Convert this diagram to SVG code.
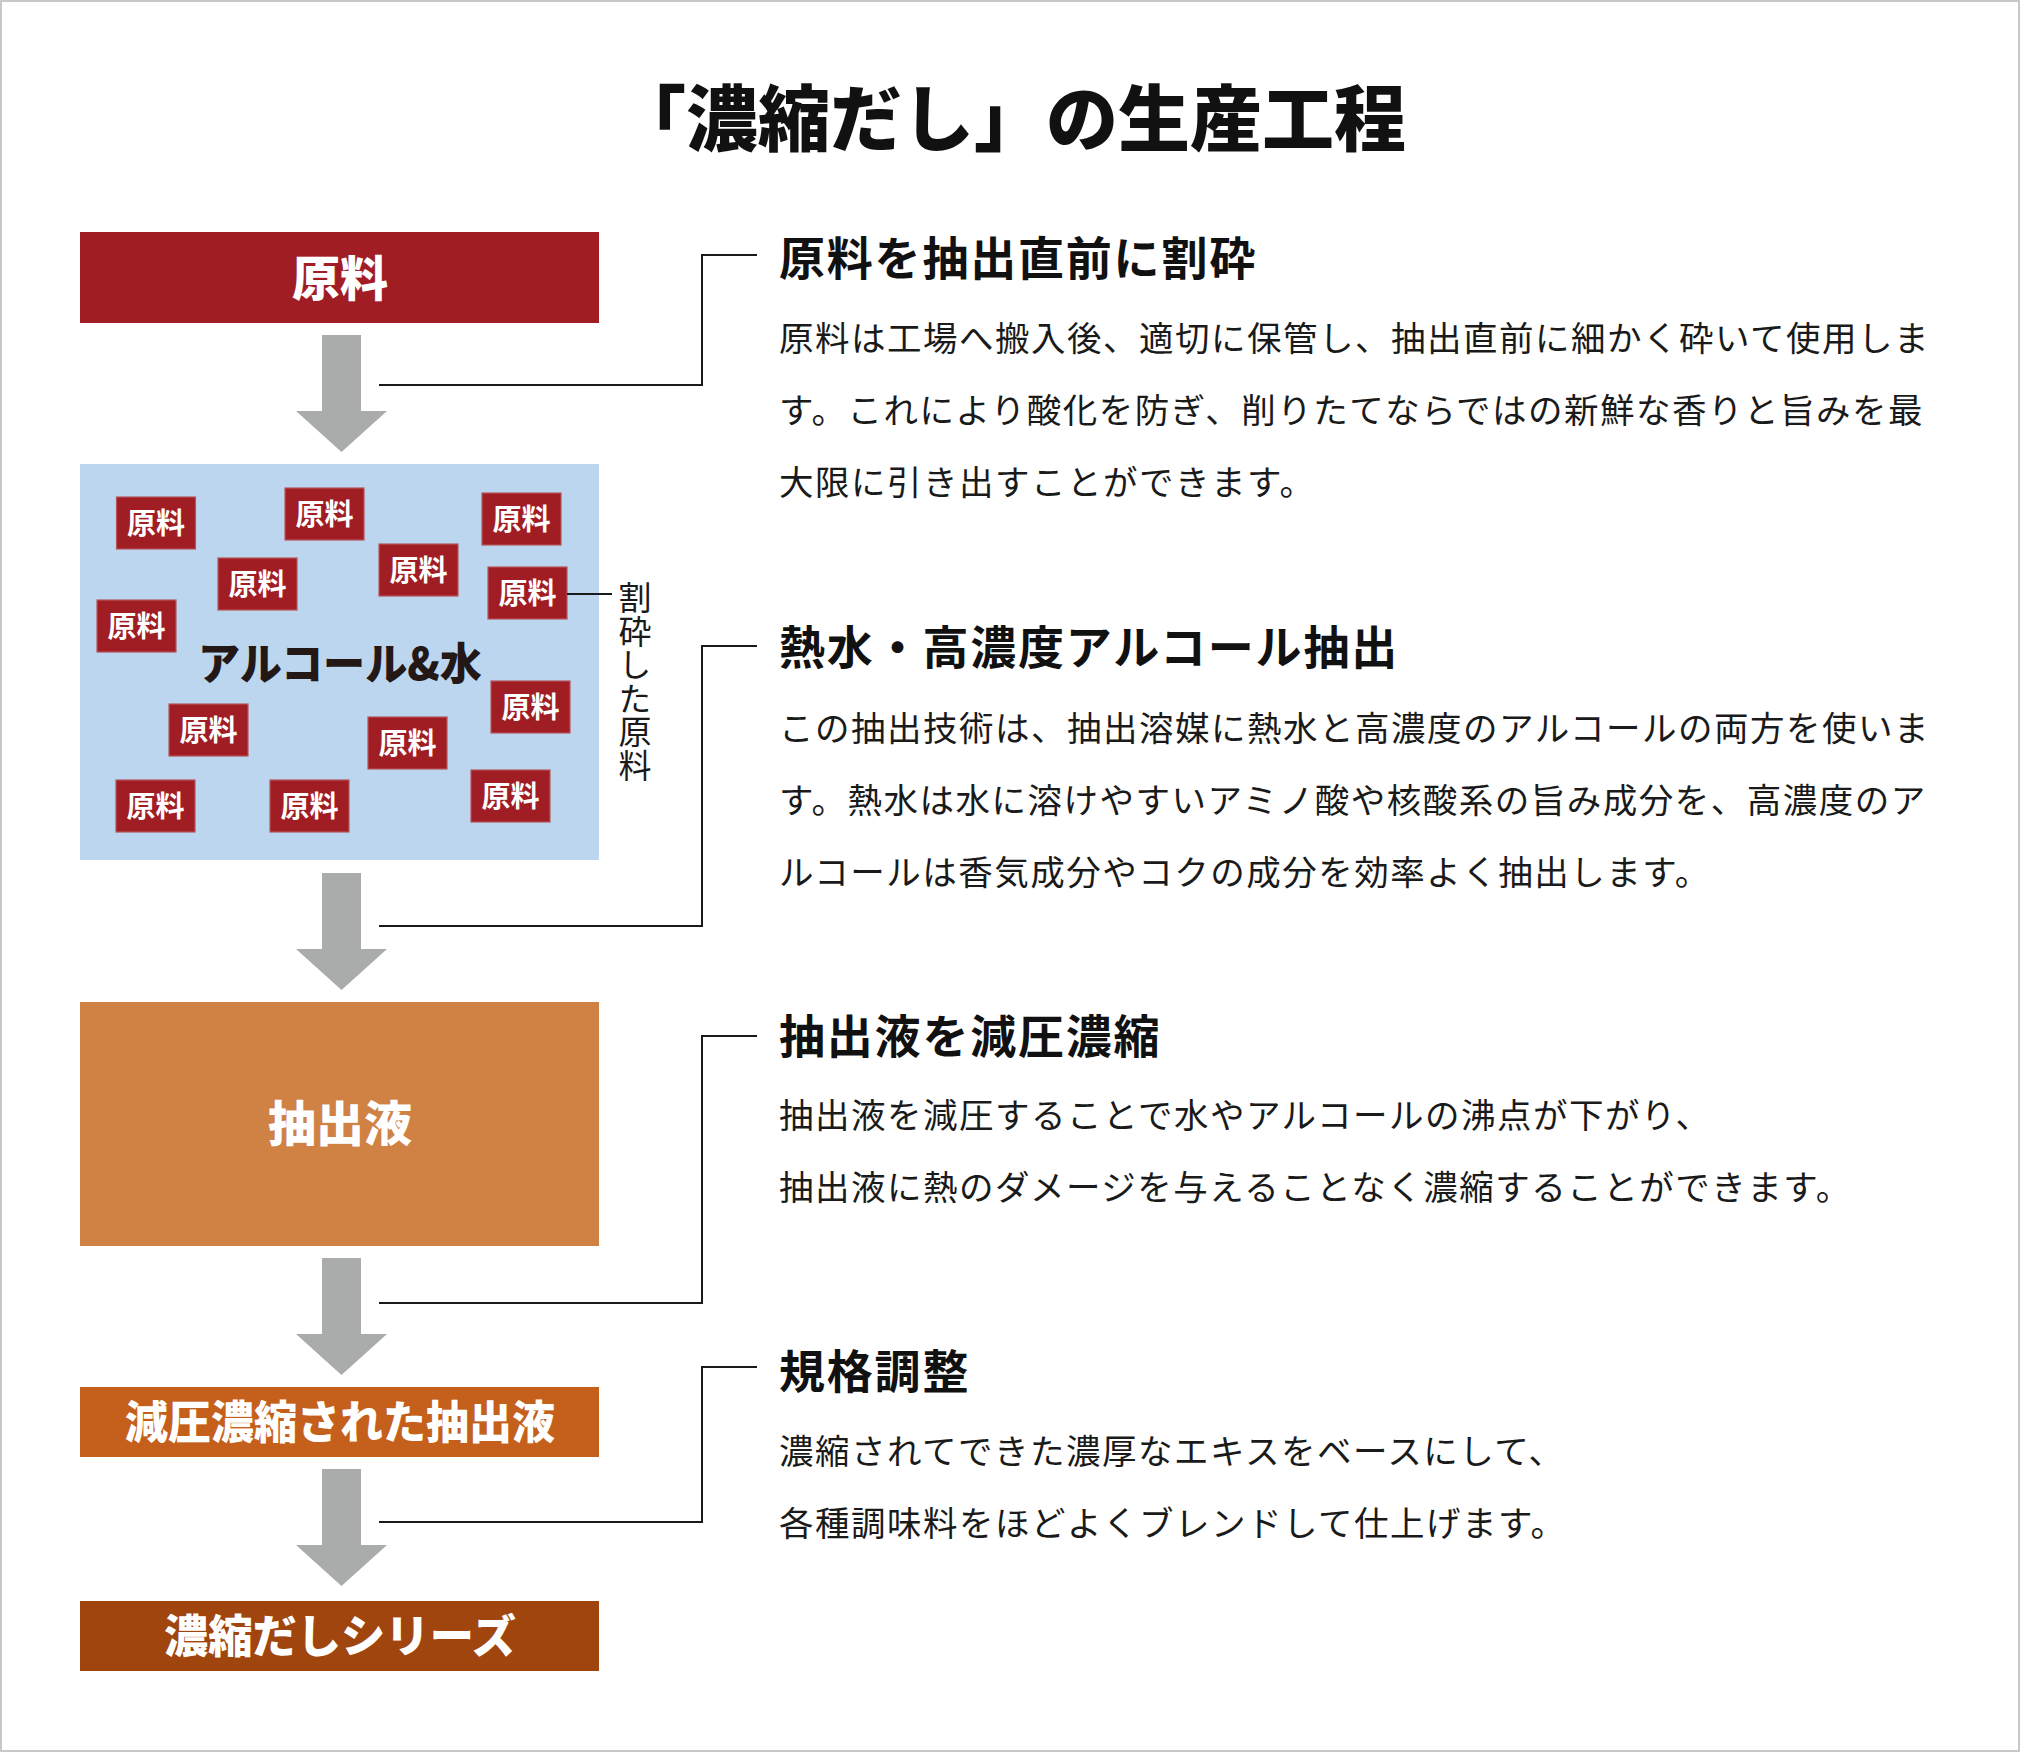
<svg xmlns="http://www.w3.org/2000/svg" width="2020" height="1752" viewBox="0 0 2020 1752">
<style>
text{font-family:"Noto Sans CJK JP","Noto Sans CJK SC",sans-serif;}
.title{font-size:72px;font-weight:900;fill:#111;}
.head{font-size:46px;font-weight:700;fill:#111;letter-spacing:1.8px;}
.body{font-size:34.5px;font-weight:400;fill:#1a1a1a;letter-spacing:1.5px;}
.lbl{font-size:48px;font-weight:900;fill:#fff;text-anchor:middle;}
.lbl2{font-size:45px;font-weight:900;fill:#fff;text-anchor:middle;}
.chip rect{fill:#a01d24;stroke:#b5565b;stroke-width:1.2;}
.chip text{font-size:29px;font-weight:700;fill:#fff;text-anchor:middle;}
.vt{font-size:33px;font-weight:400;fill:#1a1a1a;writing-mode:vertical-rl;letter-spacing:0.6px;}
.conn{fill:none;stroke:#1a1a1a;stroke-width:2;}
.arrow{fill:#aaabab;}
</style>
<defs>
<path id="arr" d="M322,0 H361 V76 H387 L341.5,117 L296,76 H322 Z"/>
</defs>
<rect x="0" y="0" width="2020" height="1752" fill="#fff"/>
<rect x="1" y="1" width="2018" height="1750" fill="none" stroke="#c8c8c8" stroke-width="2"/>

<g id="title"><text class="title" x="1010" y="145" text-anchor="middle">「濃縮だし」の生産工程</text></g>

<g id="arrows" class="arrow">
<use href="#arr" transform="translate(0,335)"/>
<use href="#arr" transform="translate(0,873)"/>
<use href="#arr" transform="translate(0,1258)"/>
<use href="#arr" transform="translate(0,1469)"/>
</g>

<g id="node-genryo">
<rect x="80" y="232" width="519" height="91" fill="#a01d24"/>
<text class="lbl" x="340" y="296">原料</text>
</g>

<g id="node-alcohol">
<rect x="80" y="464" width="519" height="396" fill="#bcd6f0"/>
<text x="340" y="680" text-anchor="middle" font-size="44" font-weight="900" fill="#231815" textLength="284" lengthAdjust="spacingAndGlyphs">アルコール&amp;水</text>
<g class="chip"><rect x="116.5" y="497" width="79" height="52"/><text x="156" y="534">原料</text></g>
<g class="chip"><rect x="285" y="488" width="79" height="52"/><text x="324.5" y="525">原料</text></g>
<g class="chip"><rect x="482" y="493" width="79" height="52"/><text x="521.5" y="530">原料</text></g>
<g class="chip"><rect x="218" y="558" width="79" height="52"/><text x="257.5" y="595">原料</text></g>
<g class="chip"><rect x="379" y="544" width="79" height="52"/><text x="418.5" y="581">原料</text></g>
<g class="chip"><rect x="488" y="567" width="79" height="52"/><text x="527.5" y="604">原料</text></g>
<g class="chip"><rect x="97" y="600" width="79" height="52"/><text x="136.5" y="637">原料</text></g>
<g class="chip"><rect x="491" y="681" width="79" height="52"/><text x="530.5" y="718">原料</text></g>
<g class="chip"><rect x="169" y="704" width="79" height="52"/><text x="208.5" y="741">原料</text></g>
<g class="chip"><rect x="368" y="717" width="79" height="52"/><text x="407.5" y="754">原料</text></g>
<g class="chip"><rect x="116" y="780" width="79" height="52"/><text x="155.5" y="817">原料</text></g>
<g class="chip"><rect x="270" y="780" width="79" height="52"/><text x="309.5" y="817">原料</text></g>
<g class="chip"><rect x="471" y="770" width="79" height="52"/><text x="510.5" y="807">原料</text></g>
</g>

<g id="label-crushed">
<line class="conn" x1="567" y1="594" x2="612" y2="594"/>
<text class="vt" x="635" y="581">割砕した原料</text>
</g>

<g id="node-extract">
<rect x="80" y="1002" width="519" height="244" fill="#d08244"/>
<text class="lbl" x="340" y="1141">抽出液</text>
</g>

<g id="node-concentrated">
<rect x="80" y="1387" width="519" height="70" fill="#c45f1c"/>
<text class="lbl2" x="340" y="1439" textLength="430" lengthAdjust="spacingAndGlyphs">減圧濃縮された抽出液</text>
</g>

<g id="node-series">
<rect x="80" y="1601" width="519" height="70" fill="#a0450e"/>
<text class="lbl2" x="340" y="1653" textLength="352" lengthAdjust="spacingAndGlyphs">濃縮だしシリーズ</text>
</g>

<g id="connectors">
<path class="conn" d="M379,385 H702 V255 H757"/>
<path class="conn" d="M379,926 H702 V646 H757"/>
<path class="conn" d="M379,1303 H702 V1036 H757"/>
<path class="conn" d="M379,1522 H702 V1367 H757"/>
</g>

<g id="step1">
<text class="head" x="779" y="275">原料を抽出直前に割砕</text>
<text class="body" x="779" y="351">原料は工場へ搬入後、適切に保管し、抽出直前に細かく砕いて使用しま</text>
<text class="body" x="779" y="423">す。これにより酸化を防ぎ、削りたてならではの新鮮な香りと旨みを最</text>
<text class="body" x="779" y="495">大限に引き出すことができます。</text>
</g>

<g id="step2">
<text class="head" x="779" y="664">熱水・高濃度アルコール抽出</text>
<text class="body" x="779" y="741">この抽出技術は、抽出溶媒に熱水と高濃度のアルコールの両方を使いま</text>
<text class="body" x="779" y="813">す。熱水は水に溶けやすいアミノ酸や核酸系の旨み成分を、高濃度のア</text>
<text class="body" x="779" y="885">ルコールは香気成分やコクの成分を効率よく抽出します。</text>
</g>

<g id="step3">
<text class="head" x="779" y="1053">抽出液を減圧濃縮</text>
<text class="body" x="779" y="1128">抽出液を減圧することで水やアルコールの沸点が下がり、</text>
<text class="body" x="779" y="1200">抽出液に熱のダメージを与えることなく濃縮することができます。</text>
</g>

<g id="step4">
<text class="head" x="779" y="1388">規格調整</text>
<text class="body" x="779" y="1464">濃縮されてできた濃厚なエキスをベースにして、</text>
<text class="body" x="779" y="1536">各種調味料をほどよくブレンドして仕上げます。</text>
</g>
</svg>
